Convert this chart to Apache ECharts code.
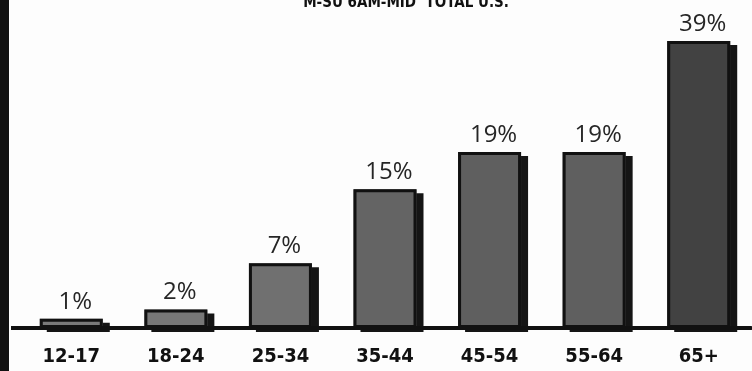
<!DOCTYPE html>
<html>
<head>
<meta charset="utf-8">
<script src="https://cdn.jsdelivr.net/npm/echarts@6/dist/echarts.min.js"></script>
<style>
  html, body { margin: 0; padding: 0; background: #fdfdfd; }
  #chart { width: 752px; height: 371px; }
</style>
</head>
<body>
<div id="chart"></div>
<script>
// Audience share by age group
const titleText = 'M-SU 6AM-MID  TOTAL U.S.';
const ageGroups = ['12-17', '18-24', '25-34', '35-44', '45-54', '55-64', '65+'];
const sharePct = [1, 2, 7, 15, 19, 19, 39];

const condensed = "'DejaVu Sans Condensed', 'Liberation Sans', sans-serif";

// Bars get a little darker as the share grows
function shadeFor(v) {
  const t = Math.min(1, v / 39);
  const c = Math.round(0x7a + (0x42 - 0x7a) * t);
  return 'rgb(' + c + ',' + c + ',' + c + ')';
}

const chart = echarts.init(document.getElementById('chart'));
chart.setOption({
  backgroundColor: '#fdfdfd',
  animation: false,
  title: {
    text: titleText,
    left: 401,
    textAlign: 'center',
    top: -9,
    textStyle: {
      fontFamily: condensed,
      fontWeight: 'bold',
      fontSize: 15,
      color: '#111'
    }
  },
  grid: { left: 19, right: 1, top: 41, bottom: 43 },
  xAxis: {
    type: 'category',
    data: ageGroups,
    z: 5,
    axisLine: { show: true, lineStyle: { color: '#111', width: 4 } },
    axisTick: { show: false },
    axisLabel: {
      margin: 19,
      fontFamily: condensed,
      fontWeight: 'bold',
      fontSize: 20,
      color: '#111'
    }
  },
  yAxis: {
    type: 'value',
    min: 0,
    max: 39,
    show: false,
    splitLine: { show: false },
    breaks: [{ start: 21, end: 29, gap: 0 }],
    breakArea: { show: false }
  },
  graphic: [
    { type: 'rect', shape: { x: 0, y: 0, width: 9, height: 371 }, style: { fill: '#111' } },
    { type: 'rect', shape: { x: 11, y: 326, width: 10, height: 4 }, style: { fill: '#111' } }
  ],
  series: [
    {
      // filled bar with its dark drop shadow
      type: 'bar',
      data: sharePct,
      barWidth: 63,
      z: 2,
      itemStyle: {
        color: (p) => shadeFor(p.value),
        shadowColor: '#151515',
        shadowBlur: 0,
        shadowOffsetX: 7,
        shadowOffsetY: 4
      },
      label: {
        show: true,
        position: 'top',
        distance: 5,
        offset: [4, 0],
        formatter: (p) => p.value + '%',
        fontFamily: "'Open Sans', sans-serif",
        fontSize: 24,
        color: '#262626'
      }
    },
    {
      // black outline drawn over the same bars
      type: 'bar',
      data: sharePct,
      barWidth: 63,
      barGap: '-100%',
      z: 3,
      silent: true,
      itemStyle: {
        color: 'rgba(0,0,0,0)',
        borderColor: '#111',
        borderWidth: 3
      }
    }
  ]
});
</script>
</body>
</html>
